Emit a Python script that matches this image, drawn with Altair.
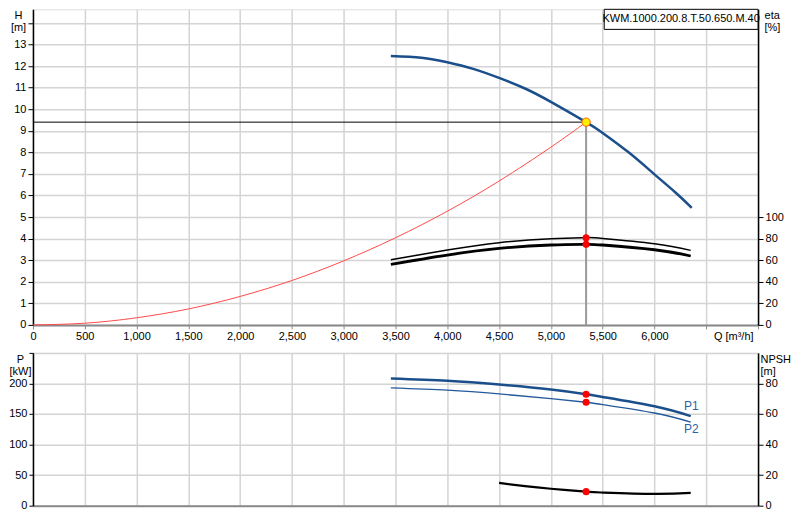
import altair as alt
import pandas as pd

# ---------------- data ----------------
Q_H = [3455, 3750, 4000, 4250, 4500, 4750, 5000, 5340, 5500, 5750, 6000, 6200, 6360]
H_VAL = [12.47, 12.39, 12.18, 11.87, 11.45, 10.96, 10.34, 9.40, 8.90, 8.00, 6.98, 6.15, 5.43]

SYS_Q = [0, 500, 1000, 1500, 2000, 2500, 3000, 3500, 4000, 4500, 5000, 5340]
SYS_H = [0, 0.08, 0.33, 0.74, 1.32, 2.06, 2.97, 4.04, 5.27, 6.67, 8.24, 9.40]

Q_ETA = [3455, 4000, 4500, 5000, 5340, 5500, 6000, 6350]
ETA_1 = [60.5, 69.4, 76.2, 79.9, 80.9, 80.2, 75.3, 69.1]
ETA_2 = [56.2, 64.8, 71.0, 74.1, 74.7, 74.1, 69.7, 63.9]

Q_P = [3455, 4000, 4500, 5000, 5340, 5500, 6000, 6350]
P_1 = [208.1, 204.3, 198.2, 190.0, 182.4, 177.9, 162.6, 146.6]
P_2 = [192.8, 189.0, 182.9, 175.1, 169.2, 165.3, 151.6, 136.7]

Q_NPSH = [4500, 4750, 5000, 5340, 5500, 6000, 6350]
NPSH_VAL = [14.9, 12.8, 11.1, 9.2, 8.6, 7.7, 8.4]

DUTY_Q = 5340
DUTY_H = 9.4
DUTY_ETA = [80.9, 74.7]
DUTY_P = [182.4, 169.2]
DUTY_NPSH = 9.2

PUMP_LABEL = "KWM.1000.200.8.T.50.650.M.40"
LABEL_BOX_Q = [5515, 7000]
LABEL_BOX_H = [13.70, 14.63]
P_LABELS = ["P1", "P2"]
P_LABEL_Q = [6355, 6355]
P_LABEL_P = [163, 125]

X_TICKS = list(range(0, 7001, 500))
H_TICKS = list(range(0, 15))
ETA_TICKS = [0, 20, 40, 60, 80, 100]
P_TICKS = [0, 50, 100, 150, 200, 250]
NPSH_TICKS = [0, 20, 40, 60, 80]

Q_DOMAIN = [0, 7000]
H_DOMAIN = [0, 14.63]
ETA_DOMAIN = [0, 292.6]
P_DOMAIN = [0, 250]
NPSH_DOMAIN = [0, 100]

# ---------------- styling ----------------
FONT = "Liberation Sans"
BLUE = "#1b4f8c"
GRID = "#d4d4d4"
W = 726
H_TOP = 316
H_BOT = 153
CURVE = "natural"

lab_kw = dict(labelFontSize=11, labelColor="black", labelFont=FONT, labelFlush=False,
              titleFont=FONT, titleFontSize=11, titleFontWeight="normal",
              titleColor="black", titleAngle=0)
grid_kw = dict(grid=True, gridColor=GRID, gridWidth=1.5)

top_x_axis = alt.Axis(values=X_TICKS,
                      labelExpr="datum.value <= 6000 ? format(datum.value, ',') : ''",
                      title="Q [m³/h]", titleX=W - 5, titleY=6,
                      titleAlign="right", titleBaseline="top",
                      domainColor="#8a8a8a", domainWidth=2,
                      tickColor="#8a8a8a", tickSize=4, labelPadding=2,
                      **grid_kw, **lab_kw)
bot_x_axis = alt.Axis(values=X_TICKS, labels=False, ticks=False, title=None,
                      domainColor="#8a8a8a", domainWidth=2, **grid_kw)

h_axis = alt.Axis(values=H_TICKS, labelExpr="datum.value <= 13 ? datum.label : ''",
                  title=["H", "[m]"], titleX=-15, titleY=0, titleAlign="center",
                  titleBaseline="top", titleLineHeight=12,
                  domainColor="black", domainWidth=1.5, tickColor="black",
                  tickSize=5, labelPadding=2, **grid_kw, **lab_kw)
eta_axis = alt.Axis(values=ETA_TICKS, orient="right", grid=False,
                    title=["eta", "[%]"], titleX=6, titleY=0, titleAlign="left",
                    titleBaseline="top", titleLineHeight=12,
                    domainColor="black", domainWidth=1.5,
                    tickColor="black", tickSize=5, labelPadding=2, **lab_kw)
p_axis = alt.Axis(values=P_TICKS, labelExpr="datum.value <= 200 ? datum.label : ''",
                  title=["P", "[kW]"], titleX=-13, titleY=1, titleAlign="center",
                  titleBaseline="top", titleLineHeight=12,
                  domainColor="black", domainWidth=1.5, tickColor="black",
                  tickSize=4, labelPadding=2, **grid_kw, **lab_kw)
npsh_axis = alt.Axis(values=NPSH_TICKS, orient="right", grid=False,
                     title=["NPSH", "[m]"], titleX=2, titleY=1, titleAlign="left",
                     titleBaseline="top", titleLineHeight=12,
                     domainColor="black", domainWidth=1.5,
                     tickColor="black", tickSize=5, labelPadding=2, **lab_kw)

xs = alt.Scale(domain=Q_DOMAIN, nice=False, zero=False)
x_top = alt.X("Q:Q", scale=xs, axis=top_x_axis)
x_bot = alt.X("Q:Q", scale=xs, axis=bot_x_axis)
y_h = alt.Y("v:Q", scale=alt.Scale(domain=H_DOMAIN, nice=False), axis=h_axis)
y_eta = alt.Y("v:Q", scale=alt.Scale(domain=ETA_DOMAIN, nice=False), axis=eta_axis)
y_p = alt.Y("v:Q", scale=alt.Scale(domain=P_DOMAIN, nice=False), axis=p_axis)
y_npsh = alt.Y("v:Q", scale=alt.Scale(domain=NPSH_DOMAIN, nice=False), axis=npsh_axis)


def df(q, v):
    return pd.DataFrame({"Q": q, "v": v})


# ---------------- top chart ----------------
vline = alt.Chart(df([DUTY_Q, DUTY_Q], [0, DUTY_H])).mark_line(
    color="#9a9a9a", strokeWidth=2).encode(x=x_top, y=y_h)
hline = alt.Chart(df([0, DUTY_Q], [DUTY_H, DUTY_H])).mark_line(
    color="black", strokeWidth=1).encode(x=x_top, y=y_h)
sys_line = alt.Chart(df(SYS_Q, SYS_H)).mark_line(
    color="#ff4a4a", strokeWidth=1, interpolate=CURVE).encode(x=x_top, y=y_h)
h_line = alt.Chart(df(Q_H, H_VAL)).mark_line(
    color=BLUE, strokeWidth=2.5, interpolate=CURVE).encode(x=x_top, y=y_h)
duty_pt = alt.Chart(df([DUTY_Q], [DUTY_H])).mark_point(
    filled=True, fill="#ffee00", stroke="#ff5a00", strokeWidth=1, size=70,
    opacity=1, shape="circle").encode(x=x_top, y=y_h)
box = alt.Chart(pd.DataFrame({"Q": [LABEL_BOX_Q[0]], "Q2": [LABEL_BOX_Q[1]],
                              "v": [LABEL_BOX_H[0]], "v2": [LABEL_BOX_H[1]]})).mark_rect(
    fill="white", stroke="black", strokeWidth=1).encode(x=x_top, x2="Q2:Q", y=y_h, y2="v2:Q")
box_text = alt.Chart(pd.DataFrame({"Q": [sum(LABEL_BOX_Q) / 2], "v": [sum(LABEL_BOX_H) / 2],
                                   "t": [PUMP_LABEL]})).mark_text(
    font=FONT, fontSize=11, color="black", align="center", baseline="middle").encode(
    x=x_top, y=y_h, text="t:N")

h_group = alt.layer(vline, sys_line, hline, h_line, duty_pt, box, box_text)

eta1 = alt.Chart(df(Q_ETA, ETA_1)).mark_line(
    color="black", strokeWidth=1.5, interpolate=CURVE).encode(x=x_top, y=y_eta)
eta2 = alt.Chart(df(Q_ETA, ETA_2)).mark_line(
    color="black", strokeWidth=2.8, interpolate=CURVE).encode(x=x_top, y=y_eta)
eta_pts = alt.Chart(df([DUTY_Q] * 2, DUTY_ETA)).mark_circle(
    color="#ff0000", size=50, opacity=1).encode(x=x_top, y=y_eta)
eta_group = alt.layer(eta1, eta2, eta_pts)

top = alt.layer(h_group, eta_group).resolve_scale(y="independent").properties(
    width=W, height=H_TOP)

# ---------------- bottom chart ----------------
p1 = alt.Chart(df(Q_P, P_1)).mark_line(
    color=BLUE, strokeWidth=2.5, interpolate=CURVE).encode(x=x_bot, y=y_p)
p2 = alt.Chart(df(Q_P, P_2)).mark_line(
    color="#24599a", strokeWidth=1.4, interpolate=CURVE).encode(x=x_bot, y=y_p)
p_pts = alt.Chart(df([DUTY_Q] * 2, DUTY_P)).mark_circle(
    color="#ff0000", size=50, opacity=1).encode(x=x_bot, y=y_p)
p_txt = alt.Chart(pd.DataFrame({"Q": P_LABEL_Q, "v": P_LABEL_P, "t": P_LABELS})).mark_text(
    font=FONT, fontSize=12, color="#2a62a6", align="center", baseline="middle").encode(
    x=x_bot, y=y_p, text="t:N")
p_group = alt.layer(p1, p2, p_pts, p_txt)

npsh = alt.Chart(df(Q_NPSH, NPSH_VAL)).mark_line(
    color="black", strokeWidth=2.2, interpolate=CURVE).encode(x=x_bot, y=y_npsh)
npsh_pt = alt.Chart(df([DUTY_Q], [DUTY_NPSH])).mark_circle(
    color="#ff0000", size=50, opacity=1).encode(x=x_bot, y=y_npsh)
npsh_group = alt.layer(npsh, npsh_pt)

bottom = alt.layer(p_group, npsh_group).resolve_scale(y="independent").properties(
    width=W, height=H_BOT)

chart = alt.vconcat(top, bottom, spacing=9).properties(padding=0).configure_view(
    stroke="#8a8a8a", strokeWidth=1.5).configure(font=FONT, background="white")

chart.save("out.html", embed_options={"renderer": "svg", "actions": False})
